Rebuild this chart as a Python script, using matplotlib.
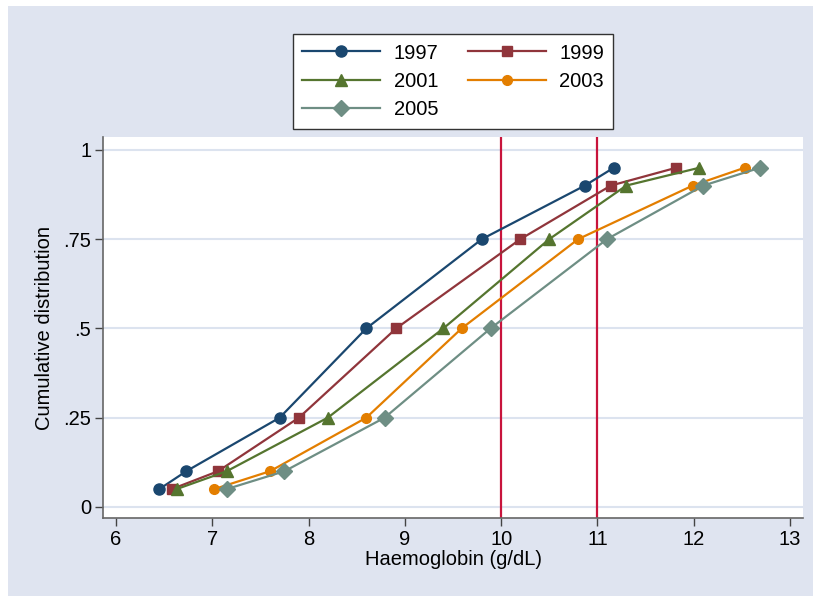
import numpy as np
import matplotlib.pyplot as plt
from matplotlib.patches import Rectangle

plt.rcParams['font.family'] = ['Liberation Sans', 'DejaVu Sans']

probs = [0.05, 0.1, 0.25, 0.5, 0.75, 0.9, 0.95]
years = ['1997', '1999', '2001', '2003', '2005']
hb_1997 = [6.45, 6.73, 7.70, 8.60, 9.80, 10.87, 11.17]
hb_1999 = [6.58, 7.06, 7.90, 8.91, 10.20, 11.14, 11.82]
hb_2001 = [6.63, 7.15, 8.20, 9.40, 10.50, 11.30, 12.06]
hb_2003 = [7.02, 7.60, 8.60, 9.59, 10.80, 11.99, 12.53]
hb_2005 = [7.15, 7.75, 8.79, 9.89, 11.10, 12.10, 12.69]
cutoffs = [10, 11]

colors = ['#1A476F', '#90353B', '#55752F', '#E37E00', '#6E8E84']
markers = ['o', 's', '^', 'o', 'D']
msizes = [8, 7.5, 8.5, 7, 8]
bg = '#DFE4F0'

fig = plt.figure(figsize=(8.13, 5.96), dpi=100)
fig.patch.set_facecolor('white')
fig.patches.append(Rectangle((8 / 813, 0), 1, 1 - 6 / 596, transform=fig.transFigure,
                             facecolor=bg, edgecolor='none', zorder=-10))

ax = fig.add_axes([103 / 813, 1 - 518 / 596, 700 / 813, 381 / 596])
ax.set_facecolor('white')

series = [hb_1997, hb_1999, hb_2001, hb_2003, hb_2005]
lines = []
for vals, yr, c, m, ms in zip(series, years, colors, markers, msizes):
    ln, = ax.plot(vals, probs, color=c, marker=m, markersize=ms, lw=1.6, label=yr)
    lines.append(ln)

for v in cutoffs:
    ax.axvline(v, color='#C8143C', lw=1.6, zorder=1)

ax.set_xlim(5.865, 13.135)
ax.set_ylim(-0.031, 1.036)
ax.set_xticks(range(6, 14))
ax.set_yticks([0, 0.25, 0.5, 0.75, 1])
ax.set_yticklabels(['0', '.25', '.5', '.75', '1'])
ax.yaxis.grid(True, color='#DCE3EF', lw=1.5)
ax.set_axisbelow(True)
for s in ['top', 'right']:
    ax.spines[s].set_visible(False)
for s in ['left', 'bottom']:
    ax.spines[s].set_color('#666666')
    ax.spines[s].set_linewidth(1.2)
ax.tick_params(direction='out', length=5.5, width=1, color='#444444', labelsize=14.5, pad=3)
ax.set_xlabel('Haemoglobin (g/dL)', fontsize=14.5, labelpad=1)
ax.set_ylabel('Cumulative distribution', fontsize=14.5, labelpad=7)

# row-major order like the original: 1997 1999 / 2001 2003 / 2005
order = [0, 2, 4, 1, 3]
leg = fig.legend([lines[i] for i in order], [years[i] for i in order],
                 loc='center', bbox_to_anchor=(453 / 813, 1 - 81.5 / 596), ncol=2,
                 fontsize=14.5, frameon=True, fancybox=False, handlelength=3.9,
                 numpoints=1, columnspacing=1.45, borderpad=0.45, labelspacing=0.47,
                 handletextpad=0.65, borderaxespad=0)
leg.get_frame().set_edgecolor('#333333')
leg.get_frame().set_facecolor('white')
leg.get_frame().set_alpha(1)
leg.get_frame().set_linewidth(1.0)

fig.savefig('out.png', dpi=100, facecolor=fig.get_facecolor())
